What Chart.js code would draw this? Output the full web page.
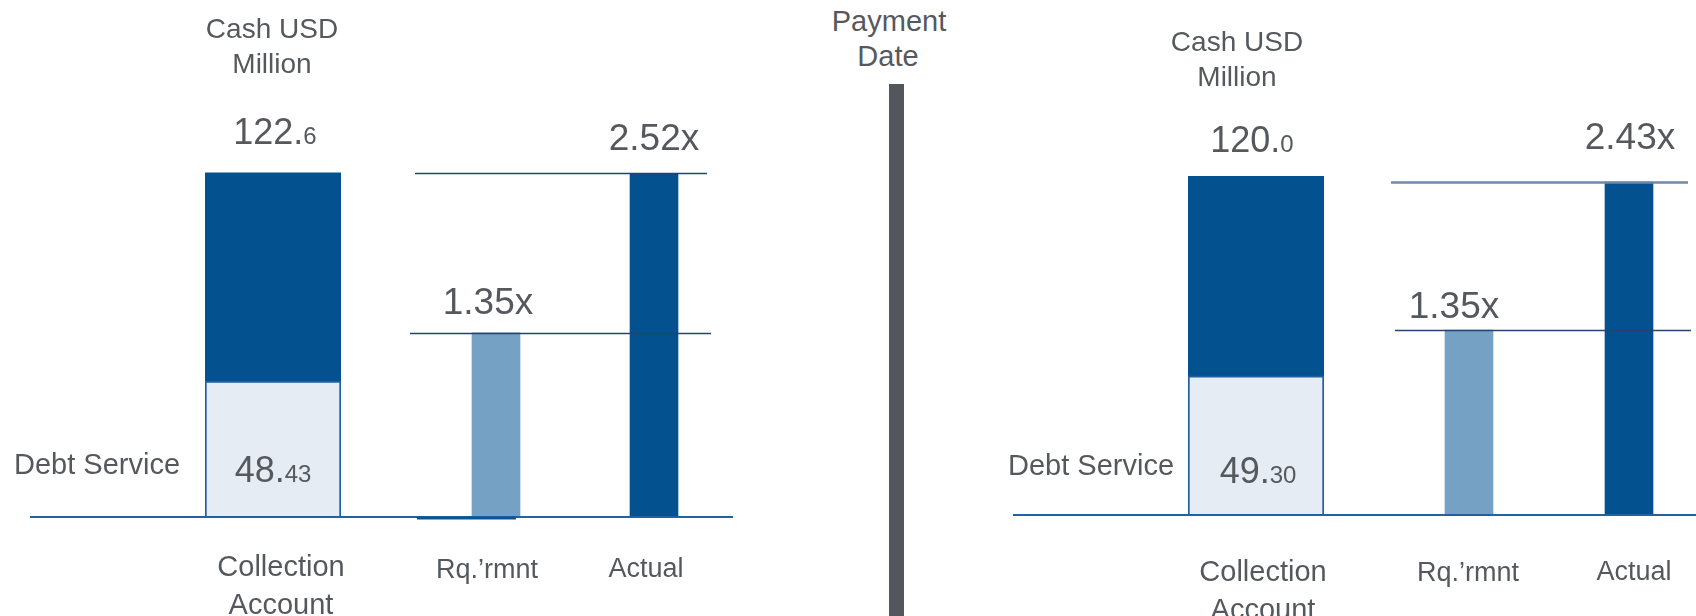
<!DOCTYPE html>
<html>
<head>
<meta charset="utf-8">
<title>Debt service coverage at payment date</title>
<script src="https://cdn.jsdelivr.net/npm/chart.js@4.4.1/dist/chart.umd.min.js"></script>
<style>
  html, body { margin: 0; padding: 0; background: #ffffff; }
  #stage {
    position: relative; width: 1696px; height: 616px; overflow: hidden;
    font-family: "Liberation Sans", Arial, sans-serif; color: #55595e;
  }
  .plot { position: absolute; top: 0; height: 616px; }
  .plot canvas { display: block; }
  .lbl { position: absolute; transform: translateX(-50%); line-height: 1; white-space: nowrap; }
  #divider { position: absolute; left: 889px; top: 84px; width: 15px; bottom: 0; background: #53565b; }
</style>
</head>
<body>
<div id="stage">
  <div class="plot" id="cashLeftBox" style="left:28px;width:382px"><canvas id="cashLeft" width="382" height="616"></canvas></div>
  <div class="plot" id="ratioLeftBox" style="left:410px;width:330px"><canvas id="ratioLeft" width="330" height="616"></canvas></div>
  <div class="plot" id="cashRightBox" style="left:1013px;width:367px"><canvas id="cashRight" width="367" height="616"></canvas></div>
  <div class="plot" id="ratioRightBox" style="left:1380px;width:340px"><canvas id="ratioRight" width="340" height="616"></canvas></div>
  <div id="divider"></div>
</div>
<script>
// ---- data: one entry per payment panel (before / after the payment date) ----
const cashCategory    = ['Collection Account'];
const ratioCategories = ['Rq.\u2019rmnt', 'Actual'];
const cashTotal       = [122.6, 120.0];   // Cash USD Million in the collection account
const debtService     = [48.43, 49.30];   // debt service portion of that cash
const requiredRatio   = [1.35, 1.35];     // required coverage
const actualRatio     = [2.52, 2.43];     // actual coverage

// ---- colours ----
const DARK   = '#03528f';
const LIGHT  = '#75a1c5';
const PALE   = '#e6ecf3';
const EDGE   = '#1f5f9e';
const BASE   = '#2262a0';

// Baseline and horizontal coverage lines, drawn through the chart's y scale
function guideLines(lines) {
  return {
    id: 'guideLines',
    afterDatasetsDraw(chart) {
      const { ctx } = chart;
      const y = chart.scales.y;
      ctx.save();
      lines.forEach(l => {
        const py = Math.round(y.getPixelForValue(l.value)) + (l.width % 2 ? 0.5 : 0) + (l.nudge || 0);
        ctx.strokeStyle = l.color;
        ctx.lineWidth = l.width;
        ctx.beginPath();
        ctx.moveTo(l.from, py);
        ctx.lineTo(l.to, py);
        ctx.stroke();
      });
      ctx.restore();
    }
  };
}

function baseOptions(pad, yMax) {
  return {
    responsive: false,
    animation: false,
    devicePixelRatio: 1,
    events: [],
    layout: { padding: pad },
    plugins: { legend: { display: false }, tooltip: { enabled: false } },
    scales: {
      x: { type: 'category', display: false, offset: true },
      y: { type: 'linear', display: false, min: 0, max: yMax }
    }
  };
}

function cashChart(id, i, pad, baseFrom, baseTo) {
  return new Chart(document.getElementById(id), {
    type: 'bar',
    data: {
      labels: cashCategory,
      datasets: [
        {
          label: 'Debt Service',
          data: [debtService[i]],
          backgroundColor: PALE,
          borderColor: EDGE,
          borderWidth: { top: 2, left: 2, right: 2, bottom: 0 },
          borderSkipped: false,
          grouped: false,
          barPercentage: 1,
          categoryPercentage: 1
        },
        {
          label: 'Cash USD Million',
          data: [[debtService[i], cashTotal[i]]],
          backgroundColor: DARK,
          borderWidth: 0,
          grouped: false,
          barPercentage: 1,
          categoryPercentage: 1
        }
      ]
    },
    options: baseOptions(pad, 130),
    plugins: [guideLines([
      { value: 0, from: baseFrom, to: baseTo, color: BASE, width: 2 }
    ])]
  });
}

function ratioChart(id, i, pad, lines) {
  return new Chart(document.getElementById(id), {
    type: 'bar',
    data: {
      labels: ratioCategories,
      datasets: [{
        label: 'Coverage',
        data: [requiredRatio[i], actualRatio[i]],
        backgroundColor: [LIGHT, DARK],
        borderWidth: 0,
        barThickness: 48
      }]
    },
    options: baseOptions(pad, 3),
    plugins: [guideLines(lines)]
  });
}

// left panel
cashChart('cashLeft', 0, { left: 177, right: 69, top: 152, bottom: 99 }, 2, 382);
ratioChart('ratioLeft', 0, { left: 7, right: 7, top: 108, bottom: 99 }, [
  { value: 0, from: 0, to: 323, color: BASE, width: 2 },
  { value: 0, from: 7, to: 106, color: '#0d5695', width: 3, nudge: 0.5 },
  { value: requiredRatio[0], from: 0, to: 301, color: '#24446e', width: 1.5 },
  { value: actualRatio[0], from: 5, to: 297, color: '#24446e', width: 1.5 }
]);

// right panel
cashChart('cashRight', 1, { left: 175, right: 56, top: 148, bottom: 101 }, 0, 367);
ratioChart('ratioRight', 1, { left: 9, right: 11, top: 104, bottom: 101 }, [
  { value: 0, from: 0, to: 340, color: BASE, width: 2 },
  { value: requiredRatio[1], from: 15, to: 311, color: '#24446e', width: 1.5 },
  { value: actualRatio[1], from: 11, to: 308, color: '#7089a8', width: 2.5 }
]);

// ---- text ----
const stage = document.getElementById('stage');
function addLabel(parts, cx, baseline, size) {
  const el = document.createElement('div');
  el.className = 'lbl';
  el.style.left = cx + 'px';
  el.style.top = (baseline - 0.8465 * size) + 'px';
  el.style.fontSize = size + 'px';
  parts.forEach(p => {
    const s = document.createElement('span');
    s.textContent = p.text;
    if (p.size) s.style.fontSize = p.size + 'px';
    el.appendChild(s);
  });
  stage.appendChild(el);
}
const plain = t => [{ text: t }];
// whole part large, decimals small
function money(v, decimals) {
  const [whole, frac] = v.toFixed(decimals).split('.');
  return [{ text: whole + '.' }, { text: frac, size: 24 }];
}
const times = v => plain(v.toFixed(2) + 'x');
const [collectionWord, accountWord] = cashCategory[0].split(' ');

// left
addLabel(plain('Cash USD'), 272, 39, 28);
addLabel(plain('Million'), 272, 74, 28);
addLabel(money(cashTotal[0], 1), 275, 144, 36);
addLabel(plain('Debt Service'), 97, 475, 29);
addLabel(money(debtService[0], 2), 273, 482, 36);
addLabel(plain(collectionWord), 281, 577, 29);
addLabel(plain(accountWord), 281, 615, 29);
addLabel(plain(ratioCategories[0]), 487, 579, 27);
addLabel(plain(ratioCategories[1]), 646, 578, 27);
addLabel(times(requiredRatio[0]), 488, 314, 37);
addLabel(times(actualRatio[0]), 654, 150, 37);

// payment date marker
addLabel(plain('Payment'), 889, 32, 29);
addLabel(plain('Date'), 888, 67, 29);

// right
addLabel(plain('Cash USD'), 1237, 52, 28);
addLabel(plain('Million'), 1237, 87, 28);
addLabel(money(cashTotal[1], 1), 1252, 152, 36);
addLabel(plain('Debt Service'), 1091, 476, 29);
addLabel(money(debtService[1], 2), 1258, 483, 36);
addLabel(plain(collectionWord), 1263, 582, 29);
addLabel(plain(accountWord), 1263, 620, 29);
addLabel(plain(ratioCategories[0]), 1468, 582, 27);
addLabel(plain(ratioCategories[1]), 1634, 581, 27);
addLabel(times(requiredRatio[1]), 1454, 318, 37);
addLabel(times(actualRatio[1]), 1630, 149, 37);
</script>
</body>
</html>
